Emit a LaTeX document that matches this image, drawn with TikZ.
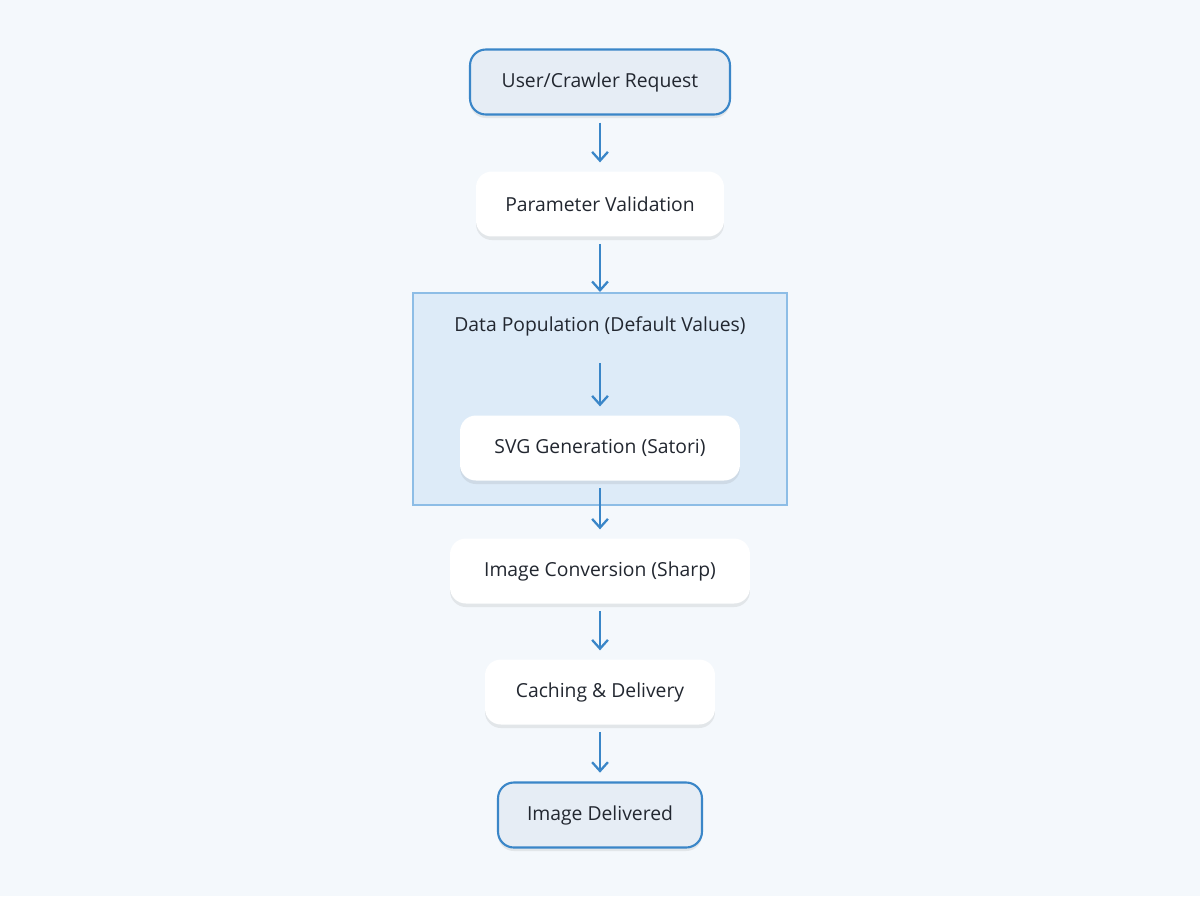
\documentclass[tikz,border=0pt]{standalone}
\usepackage{fontspec}
\setmainfont{Open Sans}
\usetikzlibrary{positioning, arrows.meta, fit, shadows}

\definecolor{bgpage}{HTML}{F4F8FC}
\definecolor{flowblue}{HTML}{3A86C8}
\definecolor{endfill}{HTML}{E6EDF5}
\definecolor{groupfill}{HTML}{DDEBF8}
\definecolor{groupline}{HTML}{8DBDE6}
\definecolor{txt}{HTML}{222730}

\tikzset{
  flowstep/.style={draw=none, fill=white, rounded corners=9pt, minimum height=1.3cm,
    font=\fontsize{11}{13}\selectfont, text=txt,
    drop shadow={shadow xshift=0pt, shadow yshift=-2pt, opacity=0.12, fill=black!60}},
  terminal/.style={flowstep, draw=flowblue, line width=1.2pt, fill=endfill},
  flow/.style={-{Straight Barb[length=5pt, width=9pt]}, draw=flowblue, line width=1.3pt}
}

\begin{document}
\begin{tikzpicture}[x=0.02cm, y=-0.02cm]

  % page
  \fill[bgpage] (0,0) rectangle (1200,896);

  % group box
  \draw[fill=groupfill, draw=groupline, line width=0.8pt] (413,293) rectangle (787,505);
  \node[font=\fontsize{11}{13}\selectfont, text=txt] (population) at (600,326) {Data Population (Default Values)};
  \coordinate (groupin) at (600,292);
  \coordinate (popout) at (600,363);

  % steps
  \node[terminal, minimum width=5.2cm] (request) at (600,82) {User/Crawler Request};
  \node[flowstep, minimum width=4.96cm] (validation) at (600,204) {Parameter Validation};
  \node[flowstep, minimum width=5.6cm] (svg) at (600,448) {SVG Generation (Satori)};
  \node[flowstep, minimum width=6cm] (conversion) at (600,571) {Image Conversion (Sharp)};
  \node[flowstep, minimum width=4.6cm] (caching) at (600,692) {Caching \& Delivery};
  \node[terminal, minimum width=4.08cm] (delivered) at (600,815) {Image Delivered};

  % arrows
  \draw[flow] ([yshift=-4pt]request.south) -- ([yshift=5pt]validation.north);
  \draw[flow] ([yshift=-4pt]validation.south) -- (groupin);
  \draw[flow] (popout) -- ([yshift=5pt]svg.north);
  \draw[flow] ([yshift=-4pt]svg.south) -- ([yshift=5pt]conversion.north);
  \draw[flow] ([yshift=-4pt]conversion.south) -- ([yshift=5pt]caching.north);
  \draw[flow] ([yshift=-4pt]caching.south) -- ([yshift=5pt]delivered.north);

\end{tikzpicture}
\end{document}
